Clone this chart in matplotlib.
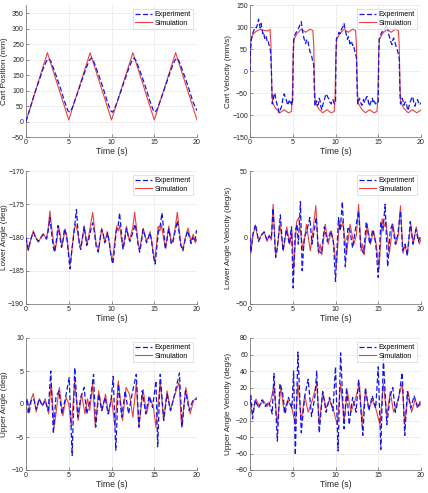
import matplotlib
matplotlib.use("Agg")
import matplotlib.pyplot as plt

plt.rcParams['font.family'] = ['Liberation Sans', 'DejaVu Sans']

## cart position (mm)
pos_sim = [(0, 0), (2.5, 222), (5, 5), (7.5, 222), (10, 5), (12.5, 222), (15, 5),
           (17.5, 222), (20, 5)]
pos_exp = [(0, 0), (0.5, 45), (1.0, 90), (1.5, 130), (2.0, 170), (2.4, 195), (2.65, 203),
           (2.9, 195), (3.5, 150), (4.0, 110), (4.5, 65), (4.9, 35), (5.1, 30), (5.35, 40),
           (6.0, 90), (6.5, 130), (7.0, 170), (7.4, 197), (7.65, 205), (7.9, 195), (8.5, 150),
           (9.0, 110), (9.5, 65), (9.9, 35), (10.1, 30), (10.35, 40), (11.0, 90), (11.5, 130),
           (12.0, 170), (12.4, 197), (12.65, 205), (12.9, 195), (13.5, 150), (14.0, 110),
           (14.5, 65), (14.9, 35), (15.1, 30), (15.35, 40), (16.0, 90), (16.5, 130), (17.0, 170),
           (17.4, 197), (17.65, 205), (17.9, 195), (18.5, 150), (19.0, 110), (19.5, 65), (20, 35)]

## cart velocity (mm/s)
vel_sim = [(0, 0), (0.1, 70), (0.3, 82), (0.7, 90), (1.2, 95), (1.7, 92), (2.1, 91), (2.35, 95),
           (2.45, 60), (2.55, -40), (2.65, -72), (3.0, -85), (3.5, -95), (4.0, -88), (4.5, -95),
           (4.85, -92), (4.95, -60), (5.05, 40), (5.15, 72), (5.5, 85), (6.0, 95), (6.5, 88),
           (7.0, 95), (7.35, 92), (7.45, 60), (7.55, -40), (7.65, -72), (8.0, -85), (8.5, -95),
           (9.0, -88), (9.5, -95), (9.85, -92), (9.95, -60), (10.05, 40), (10.15, 72), (10.5, 85),
           (11.0, 95), (11.5, 88), (12.0, 95), (12.35, 92), (12.45, 60), (12.55, -40),
           (12.65, -72), (13.0, -85), (13.5, -95), (14.0, -88), (14.5, -95), (14.85, -92),
           (14.95, -60), (15.05, 40), (15.15, 72), (15.5, 85), (16.0, 95), (16.5, 88), (17.0, 95),
           (17.35, 92), (17.45, 60), (17.55, -40), (17.65, -72), (18.0, -85), (18.5, -95),
           (19.0, -88), (19.5, -95), (19.9, -90), (20, -88)]
vel_exp = [(0, 0), (0.05, 45), (0.15, 70), (0.3, 85), (0.45, 92), (0.6, 100), (0.75, 98),
           (0.9, 108), (1.0, 118), (1.1, 105), (1.2, 98), (1.3, 108), (1.4, 95), (1.5, 85),
           (1.6, 88), (1.7, 75), (1.8, 72), (1.9, 78), (2.0, 68), (2.1, 70), (2.2, 62), (2.3, 55),
           (2.4, 45), (2.5, 0), (2.6, -75), (2.7, -70), (2.8, -55), (2.9, -50), (3.0, -62),
           (3.1, -70), (3.2, -80), (3.3, -85), (3.4, -95), (3.5, -92), (3.6, -85), (3.7, -80),
           (3.8, -68), (3.9, -58), (4.0, -52), (4.1, -58), (4.2, -62), (4.3, -70), (4.4, -78),
           (4.5, -72), (4.6, -68), (4.7, -75), (4.8, -70), (4.9, -78), (5.0, -65), (5.05, 20),
           (5.1, 70), (5.25, 82), (5.4, 88), (5.55, 92), (5.7, 98), (5.85, 105), (6.0, 112),
           (6.1, 95), (6.2, 85), (6.3, 75), (6.4, 68), (6.5, 62), (6.6, 70), (6.7, 72), (6.8, 65),
           (6.9, 55), (7.0, 45), (7.1, 40), (7.2, 35), (7.3, 25), (7.45, 15), (7.55, -60),
           (7.6, -80), (7.7, -72), (7.8, -68), (7.9, -78), (8.0, -75), (8.1, -62), (8.2, -68),
           (8.3, -82), (8.4, -88), (8.5, -78), (8.6, -72), (8.7, -65), (8.8, -58), (8.9, -52),
           (9.0, -55), (9.1, -60), (9.2, -62), (9.3, -70), (9.4, -72), (9.5, -75), (9.6, -68),
           (9.7, -65), (9.8, -72), (9.9, -75), (10.0, -70), (10.05, 20), (10.1, 72), (10.25, 80),
           (10.4, 88), (10.55, 85), (10.7, 95), (10.85, 100), (11.0, 108), (11.1, 95),
           (11.2, 88), (11.3, 80), (11.4, 72), (11.5, 78), (11.6, 70), (11.7, 62), (11.8, 68),
           (11.9, 65), (12.0, 58), (12.1, 60), (12.2, 50), (12.3, 42), (12.45, 30), (12.55, -55),
           (12.6, -75), (12.7, -70), (12.8, -62), (12.9, -68), (13.0, -75), (13.1, -78),
           (13.2, -70), (13.3, -65), (13.4, -72), (13.5, -68), (13.6, -60), (13.7, -58),
           (13.8, -65), (13.9, -75), (14.0, -80), (14.1, -72), (14.2, -68), (14.3, -62),
           (14.4, -70), (14.5, -65), (14.6, -72), (14.7, -75), (14.8, -70), (14.9, -72),
           (15.0, -70), (15.05, 20), (15.1, 72), (15.25, 80), (15.4, 88), (15.55, 90), (15.7, 95),
           (15.85, 98), (16.0, 106), (16.1, 95), (16.2, 85), (16.3, 78), (16.4, 70), (16.5, 65),
           (16.6, 60), (16.7, 70), (16.8, 75), (16.9, 68), (17.0, 62), (17.1, 55), (17.2, 50),
           (17.3, 42), (17.45, 30), (17.55, -55), (17.6, -75), (17.7, -70), (17.8, -62),
           (17.9, -68), (18.0, -78), (18.1, -72), (18.2, -70), (18.3, -75), (18.4, -85),
           (18.5, -90), (18.6, -80), (18.7, -72), (18.8, -68), (18.9, -62), (19.0, -58),
           (19.1, -65), (19.2, -75), (19.3, -80), (19.4, -72), (19.5, -68), (19.6, -65),
           (19.7, -72), (19.8, -70), (19.9, -75), (20.0, -72)]

## lower angle (deg)
low_sim = [(0, -180), (0.27, -182), (0.6, -180.2), (0.85, -179), (1.15, -180), (1.45, -180.7),
           (1.75, -180), (2.0, -179.4), (2.2, -179.8), (2.4, -180.3), (2.6, -178.5), (2.8, -176),
           (3.0, -178.5), (3.2, -180.5), (3.4, -182), (3.6, -180.5), (3.8, -178.3), (4.0, -179.5),
           (4.2, -181.4), (4.4, -180), (4.55, -178.7), (4.7, -179.3), (4.85, -180.4),
           (5.0, -182.5), (5.2, -184), (5.4, -181.5), (5.6, -179), (5.8, -178), (6.0, -179),
           (6.2, -180.5), (6.4, -181.5), (6.6, -180), (6.8, -178.4), (6.95, -179.5), (7.1, -181),
           (7.3, -180), (7.5, -178.5), (7.8, -176.2), (8.0, -178.5), (8.2, -180.9), (8.5, -181.9),
           (8.7, -180), (8.85, -178.6), (9.0, -179.4), (9.2, -180.6), (9.35, -180), (9.5, -179.1),
           (9.7, -180.4), (9.9, -182.3), (10.1, -183.6), (10.3, -181.5), (10.6, -178.3),
           (10.8, -179.0), (10.95, -178.2), (11.15, -180.2), (11.35, -181.6), (11.55, -180),
           (11.75, -178.3), (11.95, -179.6), (12.1, -180.4), (12.3, -179.5), (12.5, -178.5),
           (12.7, -176.2), (12.95, -178.8), (13.1, -180.8), (13.3, -181.9), (13.5, -180.2),
           (13.7, -178.6), (13.9, -179.5), (14.1, -180.6), (14.3, -180), (14.5, -179.1),
           (14.7, -180.5), (14.9, -182.4), (15.05, -183.6), (15.25, -181.2), (15.45, -178.3),
           (15.65, -179), (15.85, -178.1), (16.1, -180.2), (16.3, -181.5), (16.5, -180),
           (16.7, -178.3), (16.85, -179.5), (17.0, -180.9), (17.2, -180.3), (17.45, -178.5),
           (17.7, -176.2), (17.9, -178.6), (18.1, -180.9), (18.35, -181.8), (18.6, -180.2),
           (18.95, -178.6), (19.15, -179.7), (19.3, -180.6), (19.55, -179.5), (19.8, -180.8),
           (20, -180.2)]
low_exp = [(0, -180), (0.25, -181.8), (0.55, -180.3), (0.85, -179.2), (1.15, -180.1),
           (1.45, -180.6), (1.75, -180), (2.0, -179.6), (2.2, -179.9), (2.4, -180.2), (2.6, -179),
           (2.8, -177), (3.0, -179.5), (3.2, -181.5), (3.35, -182.2), (3.55, -180.5),
           (3.75, -178.2), (3.95, -179.8), (4.15, -181.5), (4.35, -180.3), (4.5, -178.7),
           (4.7, -179.6), (4.85, -181), (5.0, -183), (5.15, -184.7), (5.35, -182), (5.6, -179.5),
           (5.75, -177.5), (5.9, -175.8), (6.05, -178.5), (6.25, -181.2), (6.4, -181.8),
           (6.6, -180.2), (6.8, -178.3), (6.95, -179.7), (7.1, -181.2), (7.3, -180.5),
           (7.55, -179), (7.8, -177.8), (8.0, -179.2), (8.2, -181.3), (8.45, -182.2),
           (8.65, -180.3), (8.85, -178.8), (9.05, -179.6), (9.2, -180.8), (9.4, -180.2),
           (9.55, -179.3), (9.75, -180.8), (9.95, -182.8), (10.15, -184), (10.35, -181.8),
           (10.55, -179), (10.75, -178.5), (10.95, -176.3), (11.15, -179.2), (11.35, -181.8),
           (11.55, -180.4), (11.75, -178.6), (11.95, -179.8), (12.15, -180.6), (12.35, -179.8),
           (12.55, -179), (12.75, -178), (12.95, -179.4), (13.1, -181), (13.3, -182.2),
           (13.5, -180.6), (13.7, -178.8), (13.9, -179.7), (14.1, -180.8), (14.3, -180.1),
           (14.5, -179.3), (14.7, -180.7), (14.9, -182.8), (15.1, -184), (15.3, -181.5),
           (15.5, -179), (15.7, -178.2), (15.9, -176.3), (16.1, -178.8), (16.3, -181.8),
           (16.5, -180.3), (16.7, -178.7), (16.85, -179.8), (17.0, -181), (17.2, -180.6),
           (17.45, -179), (17.7, -177.5), (17.9, -179.2), (18.1, -181.2), (18.35, -182),
           (18.6, -180.4), (18.9, -179), (19.1, -179.9), (19.3, -180.9), (19.5, -180),
           (19.75, -180.6), (19.95, -178.9)]

## lower angle velocity (deg/s)
lowv_sim = [(0, 0), (0.1, -12), (0.35, 2), (0.65, 8), (1.0, -2), (1.35, 2), (1.65, 4.5),
            (2.0, -3), (2.25, 2), (2.5, -2), (2.7, 25), (3.0, -14), (3.25, -5), (3.5, 10),
            (3.9, -10), (4.3, 8), (4.65, -5), (4.9, 5), (5.1, -25), (5.45, 12), (5.7, 15),
            (6.2, -10), (6.6, 10), (7.05, -10), (7.3, 2), (7.7, 24), (8.0, -12), (8.2, -5),
            (8.4, -13), (8.8, 10), (9.15, -5), (9.5, 5), (9.8, -5), (10.1, -22), (10.45, 12),
            (10.7, 8), (10.85, 12), (11.3, -12), (11.7, 10), (12.15, -5), (12.45, 2), (12.7, 25),
            (13.0, -10), (13.15, -5), (13.35, -13), (13.7, 10), (14.1, -5), (14.45, 5),
            (14.75, -5), (15.1, -23), (15.45, 14), (15.65, 8), (15.9, 12), (16.3, -12),
            (16.7, 10), (17.1, -5), (17.35, 2), (17.6, 24), (17.9, -12), (18.1, -6), (18.4, -12),
            (18.8, 10), (19.1, -5), (19.45, 8), (19.8, -5), (20, -1)]
lowv_exp = [(0, 0), (0.1, -11), (0.35, 3), (0.65, 10), (1.0, -3), (1.35, 2), (1.65, 4),
            (2.0, -2), (2.25, 1), (2.5, -1), (2.7, 22), (3.0, -15), (3.2, -8), (3.55, 17),
            (3.85, -10), (4.25, 6), (4.6, -5), (4.85, 8), (5.05, -38), (5.3, 5), (5.5, 10),
            (5.65, -5), (5.9, 27), (6.1, -25), (6.35, 0), (6.65, 5), (7.0, 15), (7.25, -5),
            (7.5, 5), (7.75, 15), (8.0, -10), (8.35, -12), (8.7, 8), (9.05, -3), (9.45, 5),
            (9.75, -3), (10.0, -33), (10.35, 15), (10.55, 5), (10.8, 27), (11.15, -22),
            (11.45, 8), (11.7, 5), (12.0, -8), (12.3, 5), (12.7, 20), (12.95, -8), (13.3, -12),
            (13.6, 12), (14.0, -5), (14.35, 6), (14.7, -4), (15.0, -30), (15.3, 12), (15.55, 5),
            (15.8, 25), (16.1, -22), (16.4, 5), (16.65, 10), (17.0, -5), (17.3, 3), (17.6, 20),
            (17.85, -10), (18.15, -5), (18.4, -14), (18.75, 12), (19.05, -5), (19.4, 6),
            (19.7, -3), (20, 2)]

## upper angle (deg)
up_sim = [(0, 0), (0.2, -1.3), (0.5, 0.3), (0.85, 1.6), (1.2, -1.2), (1.55, 0.8), (1.9, -0.2),
          (2.25, 0.8), (2.65, -1.5), (2.95, 3.2), (3.3, -3.5), (3.9, 2.5), (4.3, -1.8),
          (4.7, 1.0), (5.0, 0), (5.3, -3.5), (5.7, 3.5), (6.1, -2.5), (6.5, 1.5), (6.9, -1.5),
          (7.2, 0.8), (7.45, -1), (7.8, 3.0), (8.1, -3.5), (8.5, 2), (8.9, -1), (9.3, 1.5),
          (9.65, -1.5), (10.0, 1), (10.4, -3.5), (10.8, 3.5), (11.3, -2.5), (11.7, 2.5),
          (12.1, 1.5), (12.5, -2), (12.9, 3.2), (13.2, -3.5), (13.7, 2.2), (14.1, -1.5),
          (14.5, 1), (14.9, -0.5), (15.2, -3.5), (15.7, 3.5), (16.1, -2.5), (16.5, 2),
          (16.9, -1), (17.3, 1), (17.9, 3.3), (18.2, -3.5), (18.7, 2.5), (19.2, -1.5),
          (19.6, 0.5), (20, 1)]
up_exp = [(0, 0), (0.15, 0.8), (0.35, -1.5), (0.6, 0.5), (0.9, 0.8), (1.2, -0.8), (1.55, 0.8),
          (1.9, -0.3), (2.25, 0.5), (2.6, -1), (2.9, 5), (3.2, -4.5), (3.5, 1), (3.85, 2),
          (4.2, -1.5), (4.6, 0.8), (5.05, 4), (5.4, -7.8), (5.7, 5.5), (6.05, -2), (6.4, 1),
          (6.8, 2.5), (7.1, -1.5), (7.5, 0.5), (7.9, 4.5), (8.15, -3.5), (8.5, 1.5), (8.85, -1),
          (9.25, 1), (9.6, -1.5), (9.95, 0.5), (10.2, 4.2), (10.5, -7), (10.8, 3), (11.2, -2),
          (11.6, 2), (12.0, -1.5), (12.4, 1.5), (12.9, 4.5), (13.2, -3.5), (13.6, 2),
          (14.0, -1.5), (14.4, 1.2), (14.8, -0.5), (15.2, 3.5), (15.4, -6.5), (15.7, 4.5),
          (16.1, -2.5), (16.5, 1.5), (16.9, -1), (17.3, 1), (17.95, 4.7), (18.25, -3.5),
          (18.65, 2), (19.1, -1), (19.5, 0.5), (20, 0.8)]

## upper angle velocity (deg/s)
upv_sim = [(0, 0), (0.3, -12), (0.7, 6), (1.1, -3), (1.5, 5), (2.0, -3), (2.4, 3), (2.8, 22),
           (3.2, -25), (3.6, 20), (4.0, -10), (4.4, 5), (4.9, -5), (5.3, -25), (5.6, 25),
           (6.0, -20), (6.4, 10), (6.8, -10), (7.3, 5), (7.8, 25), (8.1, -25), (8.5, 15),
           (8.9, -5), (9.3, 5), (9.7, -5), (10.2, -25), (10.6, 25), (11.0, -20), (11.4, 15),
           (11.8, -10), (12.3, 5), (12.8, 25), (13.1, -25), (13.5, 15), (13.9, -5), (14.3, 5),
           (14.7, -5), (15.2, -25), (15.6, 25), (16.0, -15), (16.4, 15), (16.8, -10), (17.3, 5),
           (17.8, 25), (18.1, -25), (18.5, 15), (18.9, -10), (19.3, 5), (19.7, -3), (20, 0)]
upv_exp = [(0, 0), (0.1, 10), (0.3, -18), (0.6, 5), (1.0, -5), (1.4, 5), (1.8, -3), (2.2, 3),
           (2.6, -12), (2.8, 37), (3.2, -45), (3.5, 25), (3.8, 15), (4.1, -12), (4.5, 8),
           (4.9, -5), (5.1, 40), (5.3, -62), (5.6, 63), (6.0, -35), (6.4, 10), (6.8, 30),
           (7.2, -15), (7.6, 10), (7.8, 40), (8.1, -35), (8.5, 15), (8.9, -10), (9.3, 8),
           (9.7, -8), (10.0, 45), (10.3, -57), (10.6, 62), (11.0, -30), (11.3, 20), (11.6, -25),
           (12.0, 8), (12.4, -10), (12.7, 30), (13.2, -38), (13.5, 20), (13.9, -8), (14.3, 10),
           (14.7, -5), (15.0, 45), (15.3, -55), (15.6, 55), (16.0, -25), (16.4, 10), (16.7, 20),
           (17.0, -10), (17.4, 8), (17.8, 38), (18.1, -38), (18.4, 15), (18.8, -5), (19.2, 10),
           (19.6, -5), (20, 5)]

panels = [
    (pos_exp, pos_sim, 'Cart Position (mm)', (-50, 376), range(-50, 351, 50)),
    (vel_exp, vel_sim, 'Cart Velocity (mm/s)', (-150, 150), range(-150, 151, 50)),
    (low_exp, low_sim, 'Lower Angle (deg)', (-190, -170), range(-190, -169, 5)),
    (lowv_exp, lowv_sim, 'Lower Angle Velocity (deg/s)', (-50, 50), [-50, 0, 50]),
    (up_exp, up_sim, 'Upper Angle (deg)', (-10, 10), range(-10, 11, 5)),
    (upv_exp, upv_sim, 'Upper Angle Velocity (deg/s)', (-80, 80), range(-80, 81, 20)),
]

W, H = 428, 493
lefts = [26, 250]
rows = [(5, 137), (171, 304), (338, 470)]

fig = plt.figure(figsize=(W / 100, H / 100), dpi=100)
txt = '#262626'
for i, (exp, sim, ylab, ylim, yticks) in enumerate(panels):
    r, c = divmod(i, 2)
    top, bot = rows[r]
    ax = fig.add_axes([lefts[c] / W, 1 - bot / H, 171 / W, (bot - top) / H])
    te, ve = zip(*exp)
    ts, vs = zip(*sim)
    ax.plot(te, ve, color='#1414e6', ls=(0, (4, 2)), lw=0.9, label='Experiment', zorder=3)
    ax.plot(ts, vs, color='#e8413f', lw=0.8, label='Simulation', zorder=2)
    ax.set_xlim(0, 20)
    ax.set_ylim(*ylim)
    ax.set_xticks(range(0, 21, 5))
    ax.set_yticks(list(yticks))
    ax.grid(True, color='#e8e8e8', lw=0.5)
    ax.set_axisbelow(True)
    for s in ['top', 'right']:
        ax.spines[s].set_visible(False)
    for s in ['left', 'bottom']:
        ax.spines[s].set_color('#666666')
        ax.spines[s].set_linewidth(0.5)
    ax.tick_params(direction='in', length=2, width=0.5, labelsize=5.0, colors='#666666',
                   labelcolor=txt, pad=1.5)
    ax.set_xlabel('Time (s)', fontsize=6.2, color=txt, labelpad=1)
    ax.set_ylabel(ylab, fontsize=5.9, color=txt)
    ax.yaxis.set_label_coords(-0.104, 0.5)
    leg = ax.legend(loc='upper right', fontsize=5.1, handlelength=2.3, handletextpad=0.4,
                    borderpad=0.3, labelspacing=0.2, fancybox=False, borderaxespad=0.6)
    leg.get_frame().set_edgecolor('#cccccc')
    leg.get_frame().set_linewidth(0.5)

fig.savefig('out.png', dpi=100)
